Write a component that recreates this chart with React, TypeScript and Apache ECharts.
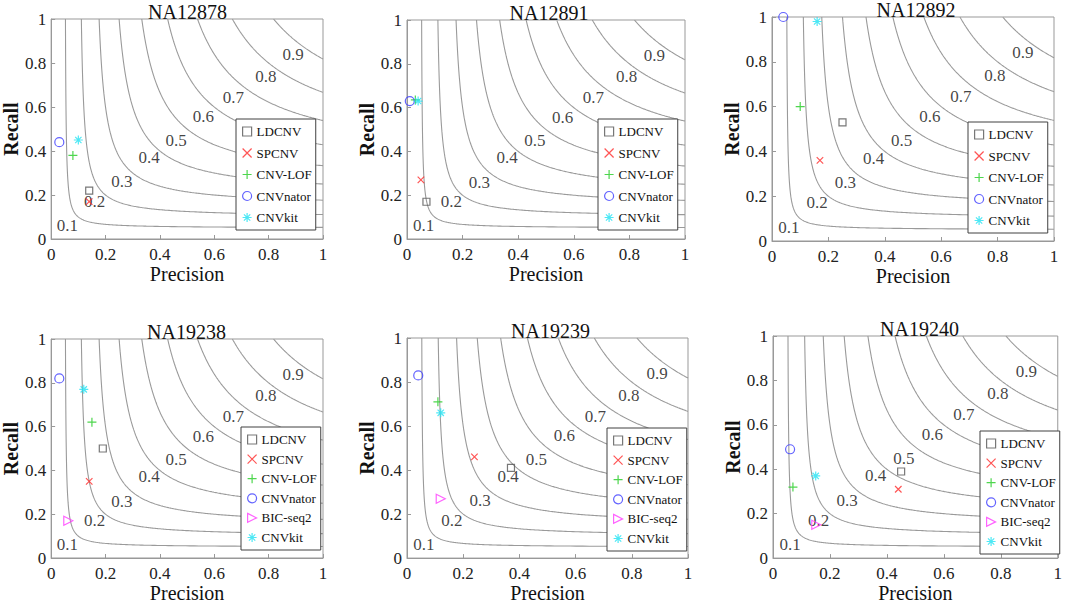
import React, { useEffect, useRef } from 'react';
import * as echarts from 'echarts';

// ---------- data ----------
const panelTitles = ['NA12878', 'NA12891', 'NA12892', 'NA19238', 'NA19239', 'NA19240'];
const methodNames = ['LDCNV', 'SPCNV', 'CNV-LOF', 'CNVnator', 'BIC-seq2', 'CNVkit'];

// precision / recall per panel (null = method not shown in that panel)
const ldcnvP = [0.14, 0.07, 0.25, 0.19, 0.37, 0.45];
const ldcnvR = [0.22, 0.17, 0.53, 0.5, 0.41, 0.39];
const spcnvP = [0.14, 0.05, 0.17, 0.14, 0.24, 0.44];
const spcnvR = [0.17, 0.27, 0.36, 0.35, 0.46, 0.31];
const cnvlofP = [0.08, 0.03, 0.1, 0.15, 0.11, 0.07];
const cnvlofR = [0.38, 0.635, 0.6, 0.62, 0.71, 0.32];
const cnvnatorP = [0.03, 0.01, 0.04, 0.03, 0.04, 0.06];
const cnvnatorR = [0.44, 0.63, 1.0, 0.82, 0.83, 0.49];
const bicseq2P = [null, null, null, 0.063, 0.12, 0.152];
const bicseq2R = [null, null, null, 0.17, 0.27, 0.15];
const cnvkitP = [0.1, 0.04, 0.16, 0.12, 0.12, 0.15];
const cnvkitR = [0.45, 0.63, 0.98, 0.77, 0.66, 0.37];

// iso-F1 levels and where their labels sit
const f1Levels = [0.1, 0.2, 0.3, 0.4, 0.5, 0.6, 0.7, 0.8, 0.9];
const f1LabelP = [0.06, 0.16, 0.26, 0.36, 0.46, 0.56, 0.67, 0.79, 0.89];
const f1LabelR = [0.06, 0.17, 0.26, 0.37, 0.45, 0.555, 0.645, 0.74, 0.84];

const legendShort = ['LDCNV', 'SPCNV', 'CNV-LOF', 'CNVnator', 'CNVkit'];
const legendFull = ['LDCNV', 'SPCNV', 'CNV-LOF', 'CNVnator', 'BIC-seq2', 'CNVkit'];

// ---------- layout / style ----------
const FONT = "'Liberation Serif', 'Times New Roman', serif";
const grids = [
  { left: 46, top: 19, width: 277, height: 220 },
  { left: 407, top: 20, width: 278, height: 219 },
  { left: 772, top: 17, width: 282, height: 224 },
  { left: 44, top: 339, width: 279, height: 219 },
  { left: 407, top: 338, width: 281, height: 222 },
  { left: 773, top: 336, width: 287, height: 229 },
];
const legendPos = [
  [236, 119],
  [598, 119],
  [968, 122],
  [241, 427],
  [607, 428],
  [980, 431],
];

const methodStyle: Record<string, any> = {
  LDCNV: { symbol: 'path://M0,0L10,0L10,10L0,10Z', size: 7, color: '#555555' },
  SPCNV: { symbol: 'path://M0,0L10,10M10,0L0,10', size: 6.5, color: '#ff2a2a' },
  'CNV-LOF': { symbol: 'path://M5,0L5,10M0,5L10,5', size: 9, color: '#22cc22' },
  CNVnator: { symbol: 'path://M10,5A5,5,0,1,1,0,5A5,5,0,1,1,10,5Z', size: 9, color: '#3c3cff' },
  'BIC-seq2': { symbol: 'path://M0,0L10,5L0,10Z', size: 9, color: '#ff3cff' },
  CNVkit: {
    symbol: 'path://M5,0L5,10M0,5L10,5M1.5,1.5L8.5,8.5M8.5,1.5L1.5,8.5',
    size: 9,
    color: '#22e2f2',
  },
};

const methodP: Record<string, (number | null)[]> = {
  LDCNV: ldcnvP,
  SPCNV: spcnvP,
  'CNV-LOF': cnvlofP,
  CNVnator: cnvnatorP,
  'BIC-seq2': bicseq2P,
  CNVkit: cnvkitP,
};
const methodR: Record<string, (number | null)[]> = {
  LDCNV: ldcnvR,
  SPCNV: spcnvR,
  'CNV-LOF': cnvlofR,
  CNVnator: cnvnatorR,
  'BIC-seq2': bicseq2R,
  CNVkit: cnvkitR,
};

// iso-F1 contour: 1/P + 1/R = 2/F
function isoCurve(f: number): number[][] {
  const pts: number[][] = [];
  const total = 2 / f;
  const uMax = total - 1;
  const n = 300;
  for (let k = 0; k <= n; k++) {
    const u = 1 + ((uMax - 1) * k) / n;
    const v = total - u;
    pts.push([1 / u, 1 / v]);
  }
  return pts;
}

function buildOption() {
  const series: any[] = [];
  const xAxis: any[] = [];
  const yAxis: any[] = [];
  const title: any[] = [];
  const legend: any[] = [];

  grids.forEach((g, i) => {
    xAxis.push({
      type: 'value',
      gridIndex: i,
      min: 0,
      max: 1,
      interval: 0.2,
      axisLine: { show: true, lineStyle: { color: '#999999', width: 1 } },
      axisTick: { show: true, inside: true, length: 4, lineStyle: { color: '#999999' } },
      splitLine: { show: false },
      axisLabel: { fontSize: 17, fontFamily: FONT, color: '#222', margin: 7 },
      name: 'Precision',
      nameLocation: 'middle',
      nameGap: 24,
      nameTextStyle: { fontSize: 20, fontFamily: FONT, color: '#111' },
    });
    yAxis.push({
      type: 'value',
      gridIndex: i,
      min: 0,
      max: 1,
      interval: 0.2,
      axisLine: { show: true, lineStyle: { color: '#999999', width: 1 } },
      axisTick: { show: true, inside: true, length: 4, lineStyle: { color: '#999999' } },
      splitLine: { show: false },
      axisLabel: { fontSize: 17, fontFamily: FONT, color: '#222', margin: 5 },
      name: 'Recall',
      nameLocation: 'middle',
      nameGap: 25,
      nameTextStyle: { fontSize: 20, fontFamily: FONT, color: '#111', fontWeight: 'bold' },
    });
    title.push({
      text: panelTitles[i],
      left: g.left + g.width / 2 + 3,
      top: g.top - 17,
      textAlign: 'center',
      padding: 0,
      textStyle: { fontSize: 20, fontFamily: FONT, fontWeight: 'normal', color: '#111' },
    });

    f1Levels.forEach((f) => {
      series.push({
        type: 'line',
        xAxisIndex: i,
        yAxisIndex: i,
        data: isoCurve(f),
        symbol: 'none',
        smooth: false,
        silent: true,
        clip: true,
        lineStyle: { color: '#9a9a9a', width: 1.1 },
        z: 1,
      });
    });

    series.push({
      type: 'scatter',
      xAxisIndex: i,
      yAxisIndex: i,
      symbolSize: 1,
      silent: true,
      itemStyle: { color: 'transparent' },
      label: {
        show: true,
        position: 'inside',
        formatter: '{b}',
        fontSize: 17,
        fontFamily: FONT,
        color: '#111',
      },
      data: f1Levels.map((f, k) => ({ name: String(f), value: [f1LabelP[k], f1LabelR[k]] })),
      z: 2,
    });

    methodNames.forEach((m) => {
      const p = methodP[m][i];
      const r = methodR[m][i];
      if (p == null || r == null) return;
      const st = methodStyle[m];
      series.push({
        name: m,
        type: 'scatter',
        xAxisIndex: i,
        yAxisIndex: i,
        symbol: st.symbol,
        symbolSize: st.size,
        itemStyle: { color: 'transparent', borderColor: st.color, borderWidth: 1.2 },
        data: [[p, r]],
        z: 3,
      });
    });

    const six = i >= 3;
    legend.push({
      data: six ? legendFull : legendShort,
      orient: 'vertical',
      left: legendPos[i][0],
      top: legendPos[i][1],
      padding: [6, 4, 6, 6],
      itemGap: six ? 6.6 : 8.5,
      itemWidth: 9,
      itemHeight: 9,
      selectedMode: false,
      backgroundColor: '#ffffff',
      borderColor: '#404040',
      borderWidth: 1,
      borderRadius: 0,
      itemStyle: { borderWidth: 1.2 },
      textStyle: { fontSize: 13, fontFamily: FONT, color: '#111' },
    });
  });

  return {
    animation: false,
    backgroundColor: '#ffffff',
    title,
    legend,
    grid: grids.map((g) => ({
      ...g,
      containLabel: false,
      show: true,
      borderColor: '#999999',
      borderWidth: 1,
      backgroundColor: 'transparent',
    })),
    xAxis,
    yAxis,
    series,
  };
}

export default function App() {
  const ref = useRef<HTMLDivElement>(null);
  useEffect(() => {
    if (!ref.current) return;
    const chart = echarts.init(ref.current, undefined, { renderer: 'svg' });
    chart.setOption(buildOption() as any);
    return () => chart.dispose();
  }, []);
  return (
    <div
      ref={ref}
      style={{ position: 'fixed', left: 0, top: 0, width: 1065, height: 604, background: '#fff' }}
    />
  );
}
